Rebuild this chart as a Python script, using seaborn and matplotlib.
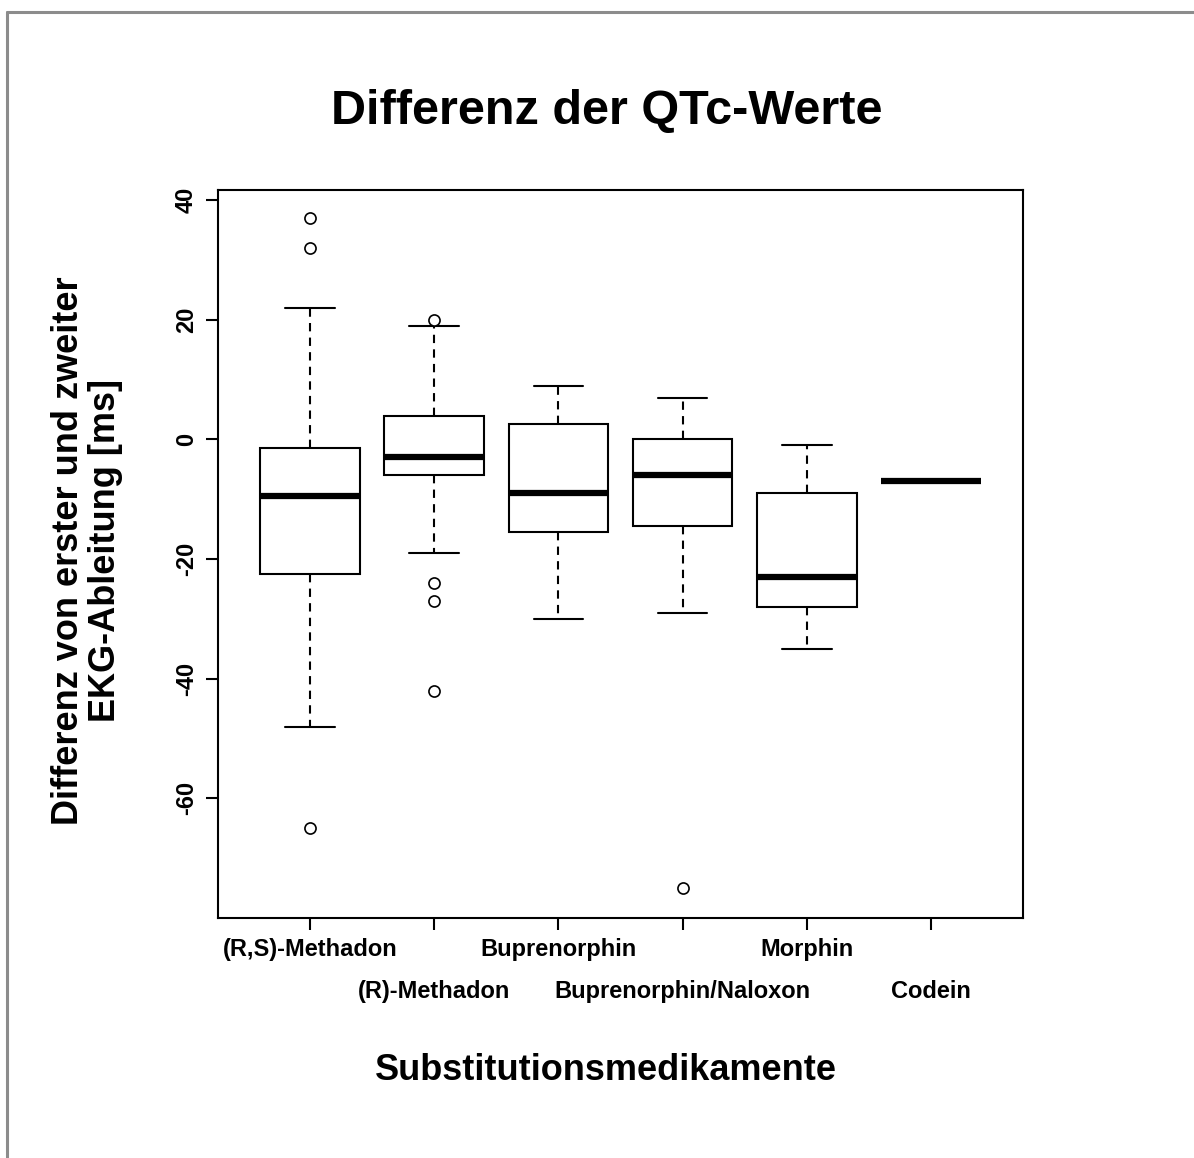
import numpy as np
import pandas as pd
import matplotlib
matplotlib.use("Agg")
import matplotlib.pyplot as plt
from matplotlib.lines import Line2D
from matplotlib.transforms import ScaledTranslation
import seaborn as sns

# ---- data (each list reproduces the box statistics) ----
drugs = ["(R,S)-Methadon", "(R)-Methadon", "Buprenorphin",
         "Buprenorphin/Naloxon", "Morphin", "Codein"]
rs_methadon = [-65, -48, -22.5, -22.5, -9.5, -9.5, -9.5, -1.5, -1.5, -1.5, 22, 32, 37]
r_methadon = [-42, -27, -24, -19, -6, -6, -3, -3, -3, 4, 4, 4, 4, 4, 4, 19, 20]
buprenorphin = [-30, -15.5, -9, 2.5, 9]
bup_naloxon = [-75, -29, -14.5, -6, -6, -6, 0, 7, 7]
morphin = [-35, -28, -23, -9, -1]
codein = [-7]
y_ticks = [-60, -40, -20, 0, 20, 40]

title = "Differenz der QTc-Werte"
x_title = "Substitutionsmedikamente"
y_title = "Differenz von erster und zweiter\nEKG-Ableitung [ms]"

groups = [rs_methadon, r_methadon, buprenorphin, bup_naloxon, morphin, codein]
df = pd.DataFrame({
    "Medikament": np.repeat(drugs, [len(g) for g in groups]),
    "Differenz": np.concatenate([np.asarray(g, float) for g in groups]),
})

# ---- style ----
sns.set_style("white")
plt.rcParams["font.family"] = ["Liberation Sans", "DejaVu Sans"]
plt.rcParams["font.weight"] = "bold"
plt.rcParams["text.color"] = "black"
plt.rcParams["axes.labelcolor"] = "black"
plt.rcParams["xtick.color"] = "black"
plt.rcParams["ytick.color"] = "black"

W, H = 1194, 1158
fig = plt.figure(figsize=(W / 100, H / 100), dpi=100)
fig.patch.set_facecolor("white")

L, R, T, B = 218, 1023, 190, 918
ax = fig.add_axes([L / W, (H - B) / H, (R - L) / W, (B - T) / H])

sns.boxplot(
    data=df, x="Medikament", y="Differenz", order=drugs, ax=ax,
    color="white", linecolor="black", linewidth=1.5, width=0.8, whis=1.5,
    whiskerprops=dict(linestyle=(0, (4, 3))),
    medianprops=dict(linewidth=4.5, solid_capstyle="butt"),
    flierprops=dict(marker="o", markersize=8, markerfacecolor="white",
                    markeredgecolor="black", markeredgewidth=1.2),
)

ax.set_xlim(-0.74, 5.74)
ax.set_ylim(-80.0, 41.7)

for s in ax.spines.values():
    s.set_visible(True)
    s.set_color("black")
    s.set_linewidth(1.5)

ax.tick_params(axis="both", direction="out", length=8.5, width=1.5,
               color="black", labelcolor="black", left=True, bottom=True)
ax.tick_params(axis="x", pad=6)
ax.tick_params(axis="y", pad=6)

ax.set_yticks(y_ticks)
ax.set_yticklabels([str(v) for v in y_ticks], rotation=90, va="center",
                   fontsize=17, fontweight="bold", color="black")
ax.set_xticks(range(len(drugs)))
ax.set_xticklabels(drugs, fontsize=17, fontweight="bold", color="black")
# staggered labels: every second label one row lower (R style)
shift = ScaledTranslation(0, -42 / 100, fig.dpi_scale_trans)
for i, lab in enumerate(ax.get_xticklabels()):
    if i % 2 == 1:
        lab.set_transform(lab.get_transform() + shift)
ax.set_xlabel("")
ax.set_ylabel("")

fig.text(607 / W, 1 - 124 / H, title, ha="center", va="baseline",
         fontsize=35, fontweight="bold", color="black")
fig.text(606 / W, 1 - 1080 / H, x_title, ha="center", va="baseline",
         fontsize=26, fontweight="bold", color="black")
fig.text(87 / W, 1 - 551 / H, y_title, ha="center", va="center", rotation=90,
         multialignment="center", fontsize=26, fontweight="bold", linespacing=1.05,
         color="black")

# grey outer frame (left and top)
gc = "#8c8c8c"
fig.add_artist(Line2D([6.5 / W, 6.5 / W], [0, 1 - 12 / H], transform=fig.transFigure,
                      color=gc, linewidth=2.2))
fig.add_artist(Line2D([6.5 / W, 1], [1 - 12 / H, 1 - 12 / H], transform=fig.transFigure,
                      color=gc, linewidth=2.2))

fig.savefig("out.png", dpi=100, facecolor="white")
